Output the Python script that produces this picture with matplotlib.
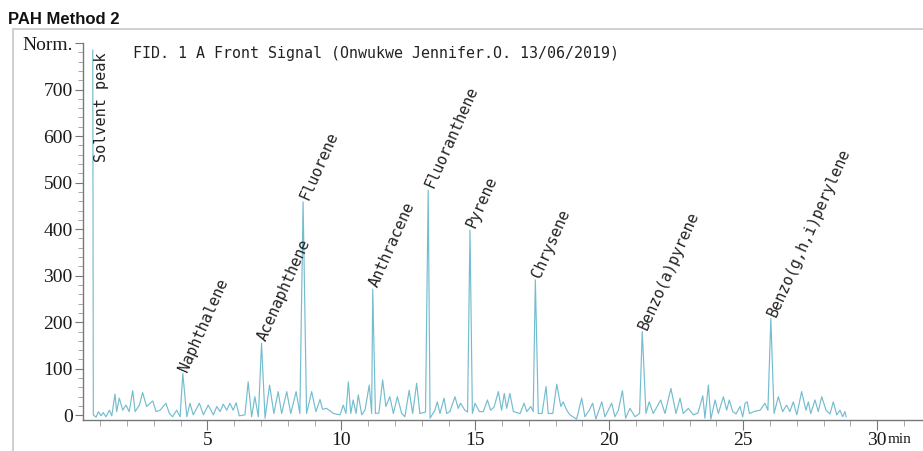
import numpy as np
import matplotlib
matplotlib.use("Agg")
import matplotlib.pyplot as plt
from matplotlib.patches import Rectangle
from matplotlib.ticker import MultipleLocator

# Named compound peaks: retention time (min) and apex height (Norm.)
peak_names = ['Naphthalene', 'Acenaphthene', 'Fluorene', 'Anthracene', 'Fluoranthene',
              'Pyrene', 'Chrysene', 'Benzo(a)pyrene', 'Benzo(g,h,i)perylene']
peak_times = [4.08, 7.02, 8.57, 11.17, 13.24, 14.80, 17.24, 21.23, 26.03]
peak_heights = [90, 155, 459, 271, 484, 398, 291, 180, 208]

solvent_time = 0.72
solvent_height = 785

# Baseline / minor peak vertices between the named peaks
base_t = [0.74, 0.84, 0.93, 1.03, 1.11, 1.21, 1.34, 1.43, 1.55, 1.61, 1.71, 1.84, 1.96, 2.08,
          2.21, 2.30, 2.46, 2.58, 2.73, 2.96, 3.08, 3.23, 3.45, 3.58, 3.70, 3.85, 3.98,
          4.23, 4.35, 4.47, 4.70, 4.85, 5.03, 5.22, 5.35, 5.47, 5.59, 5.72, 5.84, 5.96, 6.07,
          6.19, 6.40, 6.52, 6.65, 6.77, 6.90,
          7.15, 7.32, 7.48, 7.64, 7.77, 7.96, 8.11, 8.31, 8.45,
          8.70, 8.89, 9.05, 9.20, 9.30, 9.45, 9.70, 9.95, 10.07, 10.17, 10.26, 10.35, 10.44,
          10.55, 10.63, 10.76, 10.88, 11.04, 11.13,
          11.27, 11.40, 11.54, 11.66, 11.81, 11.94, 12.09, 12.25, 12.37, 12.53, 12.66, 12.81,
          12.93, 13.14,
          13.31, 13.49, 13.58, 13.68, 13.83, 13.93, 14.05, 14.24, 14.36, 14.45, 14.61, 14.71,
          14.89, 14.99, 15.15, 15.30, 15.45, 15.57, 15.70, 15.86, 15.98, 16.08, 16.17, 16.29,
          16.42, 16.67, 16.82, 16.92, 17.07, 17.16,
          17.35, 17.49, 17.64, 17.72, 17.89, 18.04, 18.19, 18.28, 18.41, 18.53, 18.78, 18.97,
          19.09, 19.25, 19.38, 19.50, 19.72, 19.84, 20.09, 20.21, 20.34, 20.49, 20.61, 20.77,
          20.96, 21.13,
          21.37, 21.49, 21.64, 21.92, 22.08, 22.30, 22.49, 22.64, 22.76, 22.95, 23.14, 23.31,
          23.49, 23.57, 23.70, 23.79, 23.95, 24.07, 24.26, 24.38, 24.48, 24.61, 24.73, 24.88,
          24.98, 25.07, 25.15, 25.23, 25.44, 25.63, 25.81, 25.92,
          26.15, 26.31, 26.47, 26.62, 26.74, 26.87, 27.00, 27.18, 27.34, 27.43, 27.52, 27.68,
          27.80, 27.93, 28.09, 28.24, 28.36, 28.49, 28.61, 28.71, 28.80, 28.84]
base_v = [1, -4, 8, -1, 6, -3, 11, -1, 46, 8, 37, 11, 22, 8,
          53, 8, 22, 49, 19, 31, 8, 11, 26, 4, -3, 11, -3,
          -3, 26, 1, 26, 1, 22, 1, 19, 8, 24, 11, 26, 11, 27,
          -1, 1, 72, -3, 40, -3,
          -6, 65, 4, 51, 4, 51, 4, 51, 4,
          4, 51, 8, 34, 13, 15, 4, 1, 22, 4, 72, 4, 33,
          4, 44, 1, 11, 65, 4,
          4, 5, 76, 19, 40, 4, 40, 4, -3, 54, 4, 69,
          4, 7,
          -6, 11, 29, 4, 37, 4, 8, 40, 15, 26, 11, 7,
          4, 26, 8, 8, 33, 11, 18, 51, 11, 47, 15, 47,
          8, 4, 26, 8, 19, 8,
          4, 4, 62, 4, 4, 67, 19, 29, 11, 1, -8, 37,
          -3, 11, 26, -8, 29, -3, 26, -3, 11, 53, -6, 15,
          -3, 4,
          4, 29, 4, 33, 4, 58, 4, 37, 4, 15, 1, 5,
          42, -6, 65, -8, 33, 4, 40, 11, 33, 8, 3, 19,
          -3, 26, 29, 4, 9, 11, 26, 11,
          4, 40, 8, 22, 8, 29, 1, 51, 11, 29, 4, 33,
          8, 40, 11, 3, 29, 1, 11, -3, 8, -3]

y_ticks = [0, 100, 200, 300, 400, 500, 600, 700, 800]
y_labels = ['0', '100', '200', '300', '400', '500', '600', '700', 'Norm.']
x_ticks = [5, 10, 15, 20, 25, 30]

# assemble the trace in time order
t = np.concatenate([[solvent_time], base_t, peak_times])
v = np.concatenate([[solvent_height], base_v, peak_heights])
order = np.argsort(t)
t, v = t[order], v[order]

fig = plt.figure(figsize=(9.23, 4.51), dpi=100)
ax = fig.add_axes([83 / 923, 1 - 420 / 451, 1 - 83 / 923, (420 - 43) / 451])

ax.plot(t, v, color='#74bdcf', lw=0.85)

ax.set_xlim(0.355, 31.71)
ax.set_ylim(-10, 800)

for s in ['top', 'right']:
    ax.spines[s].set_visible(False)
for s in ['left', 'bottom']:
    ax.spines[s].set_color('#777777')
    ax.spines[s].set_linewidth(1.0)

serif = 'Liberation Serif'
ax.set_yticks(y_ticks)
ax.set_yticklabels(y_labels, fontfamily=serif, fontsize=14)
ax.set_xticks(x_ticks)
ax.set_xticklabels([str(x) for x in x_ticks], fontfamily=serif, fontsize=14)
ax.yaxis.set_minor_locator(MultipleLocator(20))
ax.xaxis.set_minor_locator(MultipleLocator(1))
ax.tick_params(axis='y', which='major', length=6, width=0.8, color='#777777', pad=1.5,
               labelcolor='#1a1a1a')
ax.tick_params(axis='y', which='minor', length=3.5, width=0.6, color='#999999')
ax.tick_params(axis='x', which='major', length=7, width=0.8, color='#777777', pad=1.5,
               labelcolor='#1a1a1a')
ax.tick_params(axis='x', which='minor', length=4.5, width=0.6, color='#999999')

# unit after the last tick label
ax.annotate('min', xy=(30, 0), xycoords=('data', 'axes fraction'), xytext=(7.5, -9.5),
            textcoords='offset points', ha='left', va='top', fontfamily=serif, fontsize=11,
            color='#1a1a1a', annotation_clip=False)

mono = 'DejaVu Sans Mono'
ax.text(0.0595, 0.971, 'FID. 1 A Front Signal (Onwukwe Jennifer.O. 13/06/2019)',
        transform=ax.transAxes, fontfamily=mono, fontsize=10.8, va='center', ha='left',
        color='#222222')

ax.annotate('Solvent peak', xy=(solvent_time, solvent_height), xytext=(6.3, -2),
            textcoords='offset points', rotation=90, rotation_mode='anchor',
            ha='right', va='center', fontfamily=mono, fontsize=11, color='#222222')

for name, pt, ph in zip(peak_names, peak_times, peak_heights):
    ax.annotate(name, xy=(pt, ph), xytext=(0.5, 2), textcoords='offset points',
                rotation=66, rotation_mode='anchor', ha='left', va='center',
                fontfamily=mono, fontsize=11, color='#222222')

# outer panel frame and heading
fig.patches.append(Rectangle((13 / 923, -0.2), 1.2, 1 - 29 / 451 + 0.2, transform=fig.transFigure,
                             fill=False, edgecolor='#cccccc', lw=1.3))
fig.text(8 / 923, 1 - 20 / 451, 'PAH Method 2', fontfamily='Liberation Sans', fontweight='bold',
         fontsize=12, va='center', ha='left', color='#111111')

fig.savefig('out.png', dpi=100)
